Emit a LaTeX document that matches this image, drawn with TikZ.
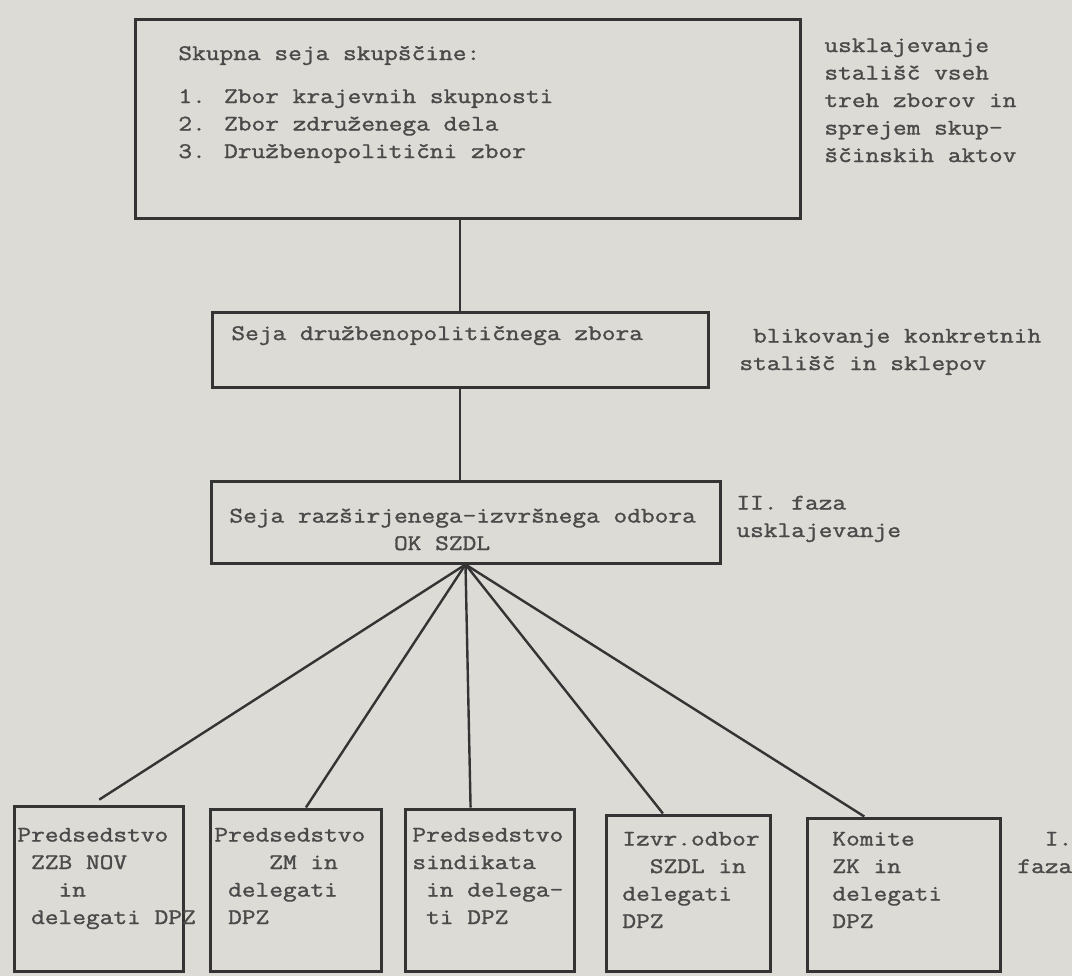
\documentclass[tikz,border=0pt]{standalone}
\usepackage{fontspec}
\setmainfont{Latin Modern Mono}[FakeStretch=1.2, FakeBold=1.4]
\usepackage{tikz}
\usetikzlibrary{positioning,fit,calc}

\definecolor{paper}{RGB}{221,219,213}
\definecolor{ink}{RGB}{52,52,52}
\definecolor{typed}{RGB}{74,74,74}

\begin{document}
\begin{tikzpicture}[x=0.5pt,y=-0.5pt]
		\tikzstyle{Box}		= [draw=ink, line width=1.5pt, inner sep=0pt]
		\tikzstyle{Txt}		= [anchor=base west, inner sep=0pt, align=left, text=typed, font=\fontsize{11.1pt}{13.75pt}\selectfont]
		\tikzstyle{Link}	= [ink, line width=1.2pt]

		\useasboundingbox (0,0) rectangle (1072,976);
		\fill[paper] (0,0) rectangle (1072,976);

		\node (b1) [Box, fit={(135,19) (800,218)}] {};
		\node (b2) [Box, fit={(212,312) (708,387)}] {};
		\node (b3) [Box, fit={(211,481) (720,563)}] {};
		\node (p1) [Box, fit={(14,806) (183,971)}] {};
		\node (p2) [Box, fit={(210,809) (381,971)}] {};
		\node (p3) [Box, fit={(405,809) (574,971)}] {};
		\node (p4) [Box, fit={(606,815) (770,971)}] {};
		\node (p5) [Box, fit={(807,818) (1000,971)}] {};

		\node (t1) at (178,158) [Txt] {Skupna seja skupščine:\\[7.75pt]1. Zbor krajevnih skupnosti\\2. Zbor združenega dela\\3. Družbenopolitični zbor};
		\node (t2) at (231,340) [Txt] {Seja družbenopolitičnega zbora};
		\node (t3) at (229,550) [Txt] {Seja razširjenega-izvršnega odbora\\~~~~~~~~~~~~OK SZDL};
		\node (q1) at (17,924) [Txt] {Predsedstvo\\~ZZB NOV\\~~~in\\~delegati DPZ};
		\node (q2) at (214,924) [Txt] {Predsedstvo\\~~~~ZM in\\~delegati\\~DPZ};
		\node (q3) at (412,924) [Txt] {Predsedstvo\\sindikata\\~in delega-\\~ti DPZ};
		\node (q4) at (622,928) [Txt] {Izvr.odbor\\~~SZDL in\\delegati\\DPZ};
		\node (q5) at (832,928) [Txt] {Komite\\ZK in\\delegati\\DPZ};

		\node (n1) at (824,162) [Txt] {usklajevanje\\stališč vseh\\treh zborov in\\sprejem skup-\\ščinskih aktov};
		\node (n2) at (739,370) [Txt] {~blikovanje konkretnih\\stališč in sklepov};
		\node (n3) at (736,537) [Txt] {II. faza\\usklajevanje};
		\node (n4) at (1017,873) [Txt] {~~I.\\faza};

		\draw [-] (b2.north |- b1.south) to (b2.north) [Link];
		\draw [-] (b2.south) to (b2.south |- b3.north) [Link];
		\draw [-, shorten >=4.5pt] (b3.south) to ($(p1.north west)!.46!(p1.north east)$) [Link];
		\draw [-] (b3.south) to ($(p2.north west)!.56!(p2.north east)$) [Link];
		\draw [-] (b3.south) to ($(p3.north west)!.39!(p3.north east)$) [Link];
		\draw [-] (b3.south) to ($(p4.north west)!.35!(p4.north east)$) [Link];
		\draw [-] (b3.south) to ($(p5.north west)!.30!(p5.north east)$) [Link];
	\end{tikzpicture}
\end{document}
